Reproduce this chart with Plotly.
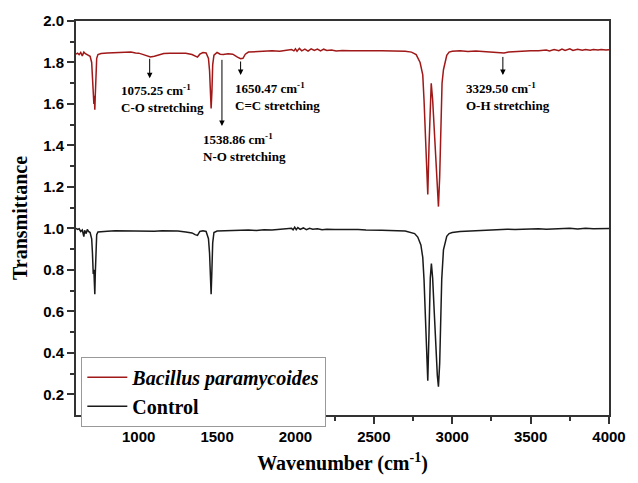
import plotly.graph_objects as go

# Bacillus paramycoides spectrum (wavenumber, transmittance)
bac_wn = [600, 610, 620, 630, 640, 650, 660, 670, 680, 690, 700, 705, 710, 714, 717, 720, 723, 727, 732, 740,
          760, 800, 850, 900, 950, 980, 1000, 1030, 1060, 1075, 1100, 1130, 1160, 1200, 1250, 1300, 1340, 1360,
          1375, 1390, 1410, 1430, 1445, 1452, 1457, 1462, 1467, 1472, 1480, 1500, 1520, 1540, 1570, 1600, 1630,
          1650, 1665, 1680, 1700, 1750, 1800, 1850, 1900, 1950, 1975, 1990, 2000, 2010, 2025, 2040, 2060, 2080,
          2100, 2120, 2140, 2160, 2180, 2200, 2230, 2260, 2300, 2350, 2400, 2450, 2500, 2550, 2600, 2650, 2700,
          2740, 2770, 2795, 2812, 2820, 2830, 2838, 2844, 2852, 2860, 2866, 2875, 2885, 2895, 2905, 2912, 2920,
          2928, 2935, 2944, 2955, 2965, 2980, 3000, 3050, 3100, 3150, 3200, 3250, 3300, 3330, 3360, 3400, 3450,
          3500, 3550, 3600, 3620, 3650, 3680, 3700, 3720, 3750, 3770, 3800, 3830, 3850, 3880, 3900, 3930, 3950,
          3980, 4000]
bac_t = [1.840, 1.845, 1.838, 1.848, 1.832, 1.850, 1.842, 1.838, 1.836, 1.830, 1.800, 1.740, 1.640, 1.600, 1.640,
         1.572, 1.640, 1.760, 1.820, 1.838, 1.843, 1.846, 1.848, 1.848, 1.850, 1.846, 1.845, 1.838, 1.828, 1.826,
         1.830, 1.838, 1.843, 1.845, 1.846, 1.844, 1.838, 1.830, 1.826, 1.840, 1.848, 1.846, 1.820, 1.760, 1.660,
         1.578, 1.660, 1.790, 1.835, 1.848, 1.840, 1.838, 1.842, 1.840, 1.826, 1.818, 1.820, 1.840, 1.850, 1.852,
         1.855, 1.856, 1.854, 1.858, 1.862, 1.856, 1.866, 1.854, 1.868, 1.856, 1.864, 1.855, 1.866, 1.858, 1.865,
         1.856, 1.864, 1.858, 1.860, 1.855, 1.858, 1.856, 1.857, 1.855, 1.856, 1.856, 1.855, 1.856, 1.854, 1.850,
         1.838, 1.800, 1.740, 1.620, 1.450, 1.300, 1.163, 1.400, 1.640, 1.700, 1.620, 1.480, 1.320, 1.180, 1.105,
         1.250, 1.500, 1.700, 1.765, 1.800, 1.835, 1.850, 1.854, 1.856, 1.853, 1.855, 1.852, 1.850, 1.848, 1.846,
         1.850, 1.852, 1.855, 1.857, 1.856, 1.860, 1.856, 1.862, 1.857, 1.865, 1.858, 1.866, 1.858, 1.864, 1.859,
         1.863, 1.859, 1.862, 1.860, 1.862, 1.860, 1.861]

# Control spectrum
ctl_wn = [600, 610, 620, 630, 640, 650, 655, 665, 672, 680, 690, 700, 705, 710, 714, 717, 720, 723, 727, 732, 740,
          760, 800, 850, 900, 950, 1000, 1050, 1100, 1150, 1200, 1250, 1300, 1340, 1360, 1375, 1390, 1410, 1430,
          1445, 1452, 1457, 1462, 1467, 1472, 1480, 1500, 1550, 1600, 1650, 1700, 1750, 1800, 1850, 1900, 1950,
          1975, 1985, 1995, 2005, 2015, 2030, 2050, 2070, 2090, 2110, 2140, 2170, 2200, 2250, 2300, 2350, 2400,
          2450, 2500, 2550, 2600, 2650, 2700, 2760, 2780, 2800, 2812, 2820, 2828, 2835, 2844, 2852, 2860, 2867,
          2875, 2885, 2895, 2905, 2912, 2920, 2928, 2933, 2944, 2955, 2965, 2980, 3000, 3050, 3100, 3150, 3200,
          3250, 3300, 3350, 3400, 3450, 3500, 3550, 3600, 3650, 3700, 3750, 3800, 3850, 3900, 3950, 4000]
ctl_t = [1.000, 0.995, 0.998, 0.985, 0.992, 0.960, 0.990, 0.975, 0.995, 0.985, 0.980, 0.950, 0.880, 0.780, 0.800,
         0.760, 0.682, 0.780, 0.920, 0.970, 0.983, 0.985, 0.986, 0.988, 0.987, 0.988, 0.985, 0.985, 0.986, 0.988,
         0.988, 0.987, 0.983, 0.978, 0.970, 0.966, 0.985, 0.988, 0.985, 0.950, 0.880, 0.780, 0.682, 0.800, 0.930,
         0.980, 0.987, 0.988, 0.990, 0.990, 0.992, 0.990, 0.993, 0.992, 0.995, 0.996, 1.000, 0.993, 1.006, 0.994,
         1.004, 0.995, 1.002, 0.994, 1.000, 0.996, 0.998, 0.993, 0.996, 0.994, 0.995, 0.993, 0.994, 0.992, 0.993,
         0.991, 0.990, 0.989, 0.987, 0.975, 0.958, 0.920, 0.860, 0.754, 0.600, 0.436, 0.265, 0.500, 0.760, 0.830,
         0.760, 0.600, 0.420, 0.290, 0.237, 0.350, 0.600, 0.754, 0.896, 0.940, 0.962, 0.975, 0.980, 0.985, 0.987,
         0.990, 0.992, 0.993, 0.994, 0.996, 0.995, 0.997, 0.996, 0.998, 0.996, 0.998, 0.997, 1.000, 0.997, 1.000,
         0.998, 1.000, 0.999]

# Peak annotations: arrow x, arrow tail y, arrow head y, label x, label top y, labels
ann_x = [1070, 1531, 1650, 3323]
ann_tail = [1.825, 1.820, 1.812, 1.834]
ann_head = [1.724, 1.494, 1.739, 1.739]
lab_x = [875, 1400, 1600, 3073]
lab_y = [1.716, 1.479, 1.725, 1.725]
lab_num = ["1075.25", "1538.86", "1650.47", "3329.50"]
lab_mode = ["C-O stretching", "N-O stretching", "C=C stretching", "O-H stretching"]

x_ticks = [1000, 1500, 2000, 2500, 3000, 3500, 4000]
x_minor = [750, 1250, 1750, 2250, 2750, 3250, 3750]
y_ticks = [0.2, 0.4, 0.6, 0.8, 1.0, 1.2, 1.4, 1.6, 1.8, 2.0]
y_minor = [0.3, 0.5, 0.7, 0.9, 1.1, 1.3, 1.5, 1.7, 1.9]

RED = "#a01818"
BLK = "#1a1a1a"
SERIF = "Liberation Serif, Times New Roman, serif"
SANS = "Liberation Sans, Arial, sans-serif"

fig = go.Figure()
fig.add_trace(go.Scatter(x=bac_wn, y=bac_t, mode="lines", name="<b><i>Bacillus paramycoides</i></b>",
                         line=dict(color=RED, width=1.5)))
fig.add_trace(go.Scatter(x=ctl_wn, y=ctl_t, mode="lines", name="<b>Control</b>",
                         line=dict(color=BLK, width=1.5)))

for i in range(len(ann_x)):
    fig.add_annotation(x=ann_x[i], y=ann_head[i], ax=ann_x[i], ay=ann_tail[i], xref="x", yref="y",
                       axref="x", ayref="y", text="", showarrow=True, arrowhead=2, arrowsize=1.1,
                       arrowwidth=1, arrowcolor="black")
    fig.add_annotation(x=lab_x[i], y=lab_y[i], xref="x", yref="y", xanchor="left", yanchor="top",
                       align="left", showarrow=False,
                       text=f"<b>{lab_num[i]} cm<sup>-1</sup><br>{lab_mode[i]}</b>",
                       font=dict(family=SERIF, size=13, color="black"))

axis_common = dict(showline=True, linecolor="#333333", linewidth=2, mirror=True, ticks="outside",
                   ticklen=7, tickwidth=1.5, tickcolor="#333333", showgrid=False, zeroline=False,
                   tickfont=dict(family=SANS, size=15, color="black", weight=700))

fig.update_xaxes(range=[600, 4000], tickmode="array", tickvals=x_ticks,
                 ticktext=[f"<b>{v}</b>" for v in x_ticks],
                 minor=dict(tickvals=x_minor, ticks="outside", ticklen=4, tickwidth=1.5, tickcolor="#333333"),
                 title=dict(text="<b>Wavenumber (cm<sup>-1</sup>)</b>",
                            font=dict(family=SERIF, size=20, color="black"),
                            standoff=12),
                 **axis_common)
fig.update_yaxes(range=[0.1, 2.0], tickmode="array", tickvals=y_ticks,
                 ticktext=[f"<b>{v:.1f}</b>" for v in y_ticks],
                 minor=dict(tickvals=y_minor, ticks="outside", ticklen=4, tickwidth=1.5, tickcolor="#333333"),
                 title=dict(text="<b>Transmittance</b>",
                            font=dict(family=SERIF, size=20, color="black"),
                            standoff=10),
                 **axis_common)

fig.update_layout(width=638, height=483, margin=dict(l=76, r=20, t=20, b=63),
                  plot_bgcolor="white", paper_bgcolor="white",
                  legend=dict(x=0.01, y=0.148, xanchor="left", yanchor="top", bgcolor="white",
                              bordercolor="#999999", borderwidth=1, tracegroupgap=0, itemwidth=40,
                              font=dict(family=SERIF, size=20, color="black")),
                  showlegend=True)

fig.write_html("out.html")
